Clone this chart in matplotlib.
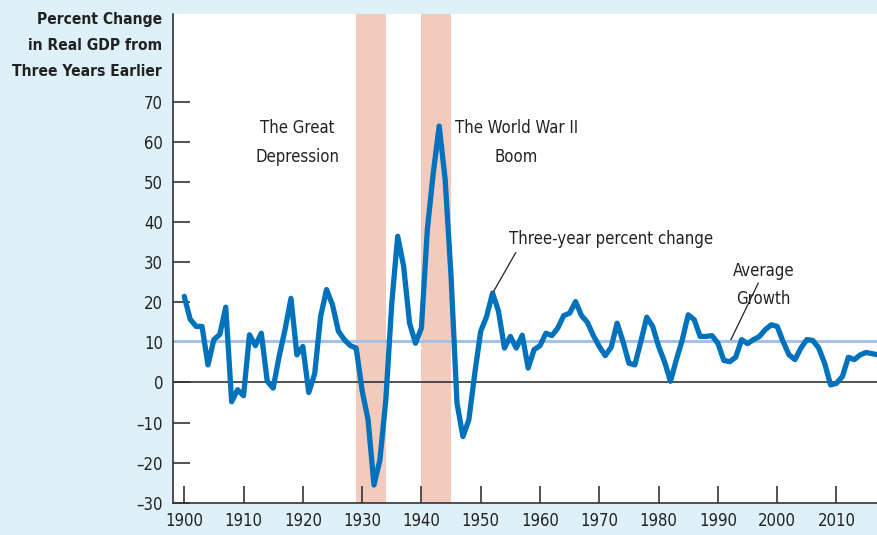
import numpy as np
import matplotlib.pyplot as plt

# three-year percent change in real GDP, 1900-2017
years = np.arange(1900, 2018)
pct_change = [
    21.5, 15.8, 14.0, 14.0, 4.4, 10.7, 12.0, 18.8, -4.8, -1.8,    # 1900s
    -3.3, 11.9, 9.2, 12.3, 0.3, -1.4, 6.5, 13.2, 21.0, 6.9,       # 1910s
    9.0, -2.5, 2.2, 16.5, 23.2, 19.4, 12.8, 10.7, 9.2, 8.6,       # 1920s
    -2.0, -9.3, -25.6, -19.3, -4.3, 19.8, 36.5, 29.0, 14.8, 9.8,  # 1930s
    13.6, 38.2, 52.3, 64.0, 50.7, 26.5, -5.2, -13.5, -9.3, 2.3,   # 1940s
    12.8, 16.5, 22.3, 17.8, 8.6, 11.5, 8.6, 11.8, 3.6, 8.2,       # 1950s
    9.2, 12.3, 11.7, 13.6, 16.7, 17.3, 20.2, 16.7, 15.0, 11.7,    # 1960s
    9.0, 6.7, 8.8, 14.8, 10.2, 4.8, 4.4, 10.2, 16.3, 14.0,        # 1970s
    9.0, 5.2, 0.3, 5.7, 10.7, 16.9, 15.7, 11.5, 11.5, 11.7,       # 1980s
    9.8, 5.5, 5.2, 6.3, 10.7, 9.7, 10.7, 11.5, 13.2, 14.4,        # 1990s
    14.0, 10.2, 6.9, 5.7, 8.6, 10.7, 10.5, 8.6, 4.8, -0.6,        # 2000s
    -0.2, 1.5, 6.3, 5.7, 6.9, 7.5, 7.2, 6.9,                      # 2010s
]
average_growth = 10.4

# shaded periods
great_depression = (1929, 1934)
ww2_boom = (1940, 1945)

x_ticks = np.arange(1900, 2011, 10)
y_ticks = np.arange(-30, 71, 10)

plt.rcParams['font.family'] = ['Liberation Sans Narrow', 'DejaVu Sans']
plt.rcParams['font.stretch'] = 'condensed'
bg = '#def0f8'
dark = '#333333'
ink = '#222222'
fs = 12

fig = plt.figure(figsize=(8.78, 5.35), dpi=100, facecolor=bg)
ax = fig.add_axes([0.197, 0.0604, 0.803, 0.9136])
ax.set_facecolor('white')

ax.axvspan(*great_depression, color='#f2cbbd', lw=0, zorder=1)
ax.axvspan(*ww2_boom, color='#f2cbbd', lw=0, zorder=1)
ax.axhline(0, color=dark, lw=1.2, zorder=2)
ax.axhline(average_growth, color='#a6c0e6', lw=2.2, zorder=2)
ax.plot(years, pct_change, color='#0072bc', lw=3.8, solid_joinstyle='round',
        solid_capstyle='round', zorder=3)

ax.set_xlim(1898.1, 2017)
ax.set_ylim(-30, 92)
ax.set_xticks(x_ticks)
ax.set_yticks(y_ticks)
ax.set_yticklabels([str(v).replace('-', '\u2013') for v in y_ticks])
ax.tick_params(axis='both', direction='in', length=12, width=1.2, color=dark,
               labelsize=fs, labelcolor=ink, pad=7)

for side in ['top', 'right']:
    ax.spines[side].set_visible(False)
for side in ['left', 'bottom']:
    ax.spines[side].set_color(dark)
    ax.spines[side].set_linewidth(1.2)

# labels on the chart
ax.text(1919.1, 59.9, 'The Great\nDepression', ha='center', va='center',
        fontsize=fs, linespacing=1.82, color=ink)
ax.text(1956.0, 59.9, 'The World War II\nBoom', ha='center', va='center',
        fontsize=fs, linespacing=1.82, color=ink)
ax.text(1954.8, 35.7, 'Three-year percent change', ha='left', va='center',
        fontsize=fs, color=ink)
ax.plot([1955.9, 1952.2], [32.4, 22.8], color=ink, lw=0.9, zorder=4)
ax.text(1997.7, 24.3, 'Average\nGrowth', ha='center', va='center',
        fontsize=fs, linespacing=1.68, color=ink)
ax.plot([1996.8, 1992.2], [24.8, 10.7], color=ink, lw=0.9, zorder=4)

fig.text(162 / 878, 1 - 12 / 535, 'Percent Change\nin Real GDP from\nThree Years Earlier',
         ha='right', va='top', fontsize=11.2, fontweight='bold', linespacing=1.93,
         color=ink)

plt.savefig('out.png', dpi=100, facecolor=bg)
